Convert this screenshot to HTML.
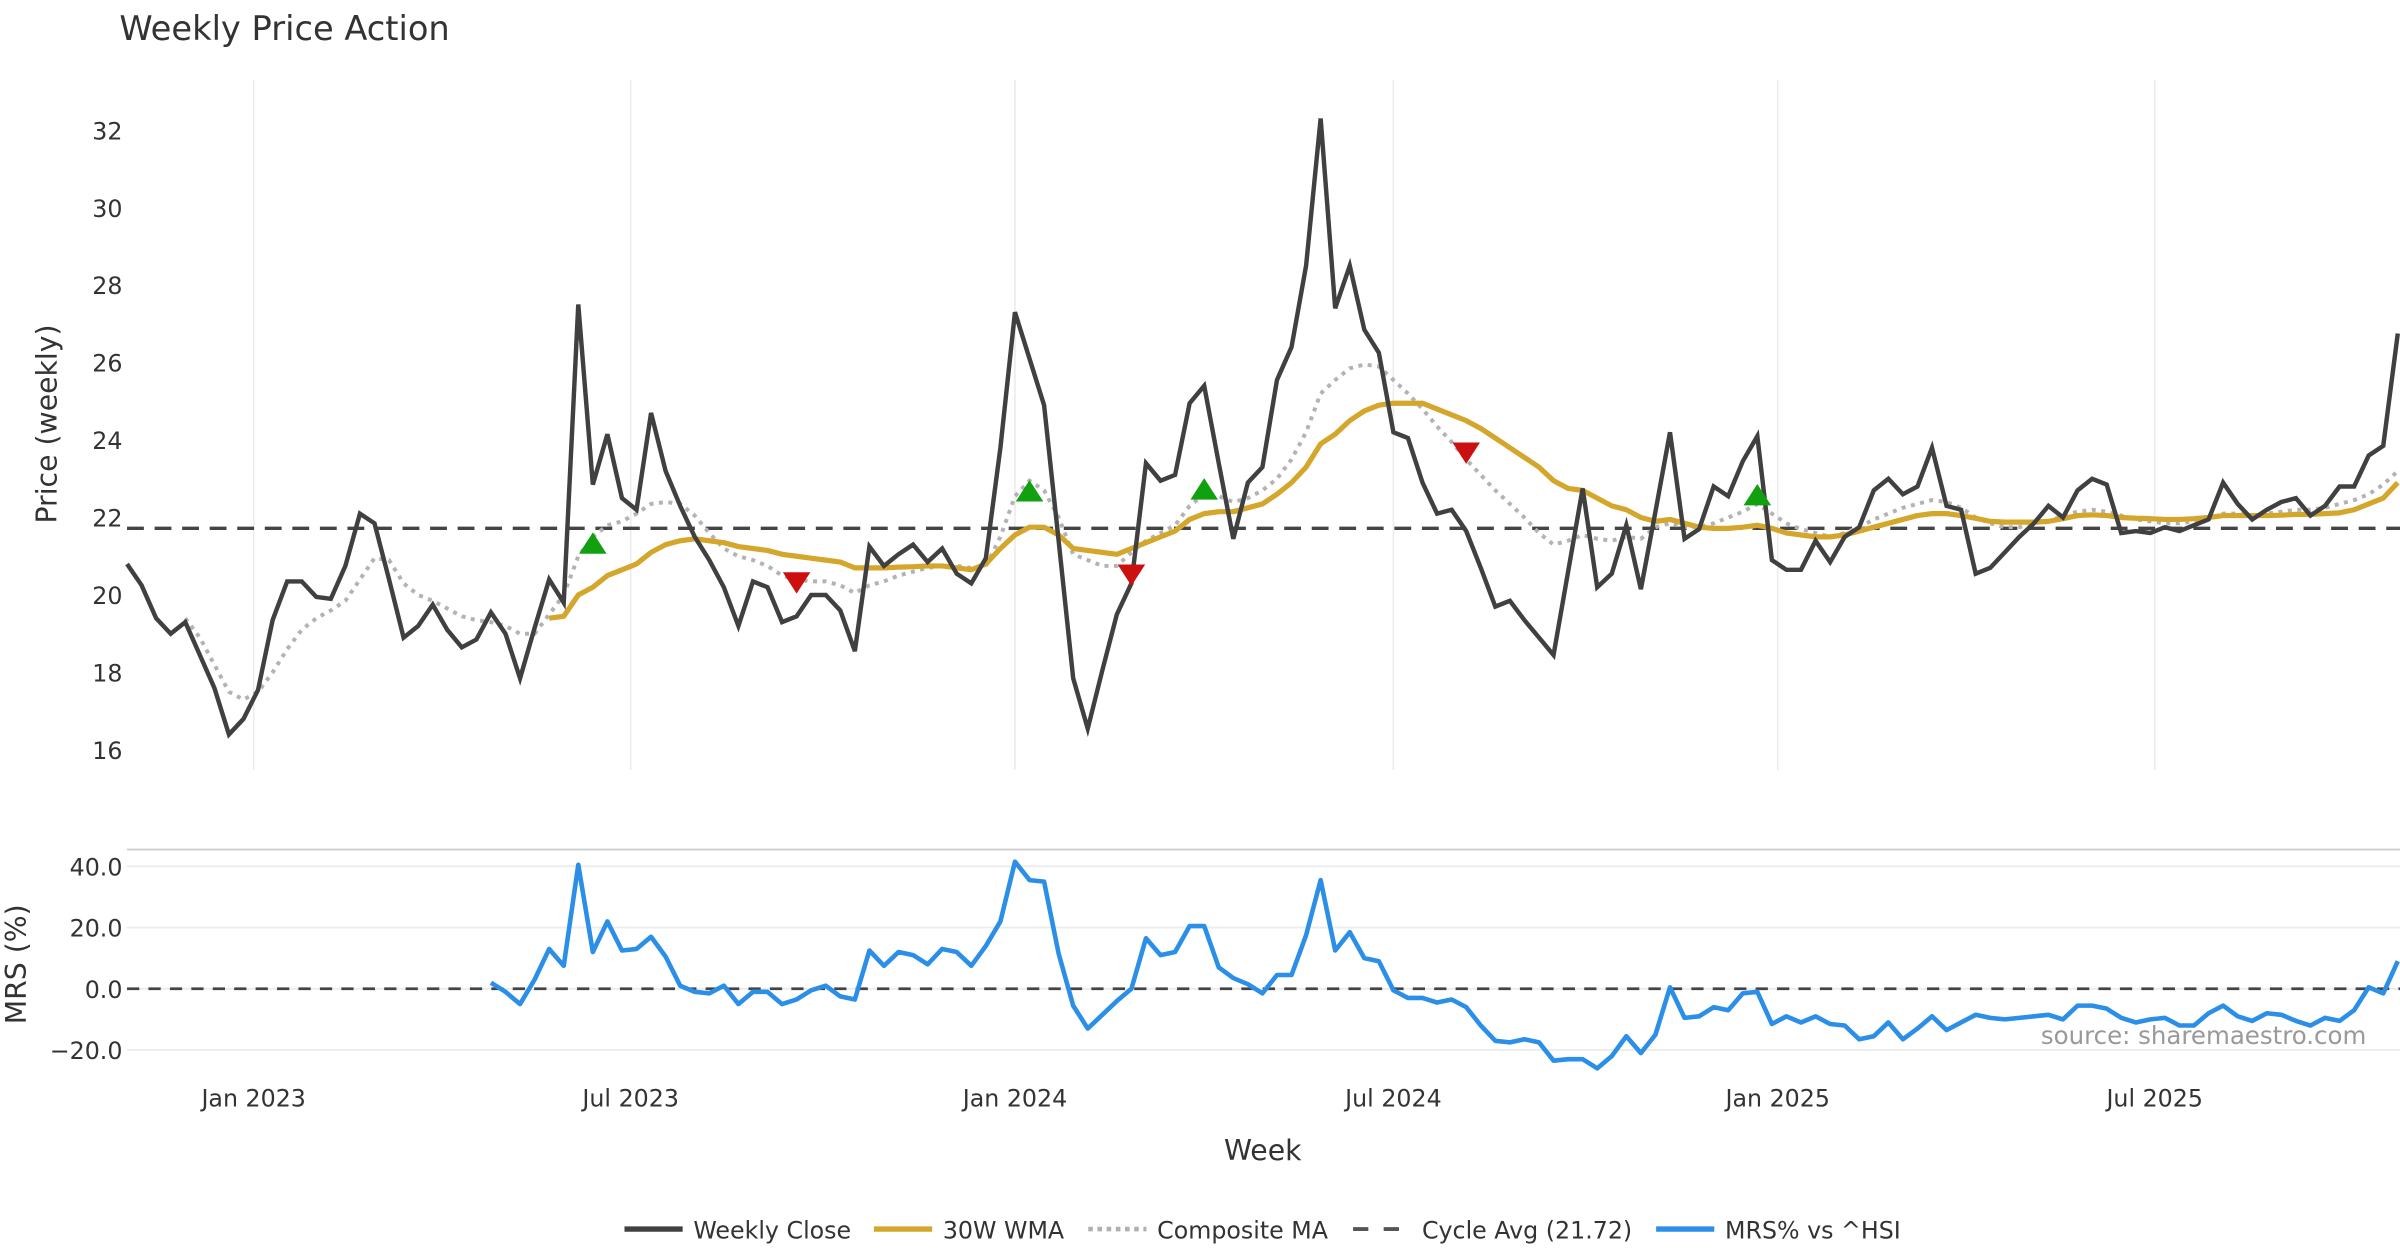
<!DOCTYPE html>
<html><head><meta charset="utf-8"><style>
html,body{margin:0;padding:0;background:#fff;}
svg{display:block;font-family:"DejaVu Sans","Liberation Sans",sans-serif;}
</style></head><body>
<svg id="chart" width="2400" height="1260" viewBox="0 0 1568 823.2" xmlns="http://www.w3.org/2000/svg">
<rect x="0" y="0" width="1568" height="823.2" fill="#fff"/>
<text x="78" y="26" font-size="22" fill="#333">Weekly Price Action</text>
<g id="grid"></g>
<g id="series"></g>
<g id="axes"></g>
<text transform="translate(37,277) rotate(-90)" text-anchor="middle" font-size="18.5" fill="#333">Price (weekly)</text>
<text transform="translate(17,630) rotate(-90)" text-anchor="middle" font-size="18.5" fill="#333">MRS (%)</text>
<text x="825" y="758" text-anchor="middle" font-size="18.5" fill="#333">Week</text>
<text x="1546" y="682" text-anchor="end" font-size="16" fill="#999">source: sharemaestro.com</text>
<g id="legend">
  <line x1="408" y1="803" x2="446" y2="803" stroke="#404040" stroke-width="3.5"/>
  <text x="453" y="809" font-size="15.5" fill="#333">Weekly Close</text>
  <line x1="571" y1="803" x2="609" y2="803" stroke="#d4a72c" stroke-width="3.5"/>
  <text x="616" y="809" font-size="15.5" fill="#333">30W WMA</text>
  <line x1="711" y1="803" x2="749" y2="803" stroke="#b0b0b0" stroke-width="3" stroke-dasharray="3,3"/>
  <text x="756" y="809" font-size="15.5" fill="#333">Composite MA</text>
  <line x1="884" y1="803" x2="922" y2="803" stroke="#555" stroke-width="2.5" stroke-dasharray="10,10"/>
  <text x="929" y="809" font-size="15.5" fill="#333">Cycle Avg (21.72)</text>
  <line x1="1082" y1="803" x2="1120" y2="803" stroke="#2b8fe8" stroke-width="3.5"/>
  <text x="1127" y="809" font-size="15.5" fill="#333">MRS% vs ^HSI</text>
</g>
</svg>
<script>
const closeVals=[20.8,20.25,19.4,19.0,19.3,18.45,17.6,16.4,16.8,17.55,
19.35,20.35,20.35,19.95,19.9,20.75,22.1,21.85,20.4,18.9,
19.2,19.75,19.1,18.65,18.85,19.55,19.0,17.85,19.15,20.4,
19.8,27.5,22.85,24.15,22.5,22.2,24.7,23.2,22.3,21.5,
20.9,20.2,19.2,20.35,20.2,19.3,19.45,20.0,20.0,19.6,
18.55,21.25,20.75,21.05,21.3,20.85,21.2,20.55,20.3,20.95,
23.8,27.3,26.1,24.9,21.4,17.85,16.55,18.05,19.5,20.3,
23.4,22.95,23.1,24.95,25.4,23.4,21.45,22.9,23.3,25.55,
26.4,28.5,32.3,27.4,28.5,26.85,26.25,24.2,24.05,22.9,
22.1,22.2,21.65,20.7,19.7,19.85,19.35,18.9,18.45,20.6,
22.75,20.2,20.55,21.8,20.15,22.15,24.2,21.45,21.7,22.8,
22.55,23.45,24.1,20.9,20.65,20.65,21.4,20.85,21.5,21.75,
22.7,23.0,22.6,22.8,23.8,22.3,22.2,20.55,20.7,21.1,
21.5,21.85,22.3,22.0,22.7,23.0,22.85,21.6,21.65,21.6,
21.75,21.65,21.8,21.95,22.9,22.35,21.95,22.2,22.4,22.5,
22.05,22.3,22.8,22.8,23.6,23.85,26.75];
const wmaStart=29;
const wmaVals=[19.4,19.45,20.0,20.2,20.5,20.65,20.8,21.1,21.3,21.4,21.45,
21.4,21.35,21.25,21.2,21.15,21.05,21.0,20.95,20.9,20.85,
20.7,20.7,20.7,20.72,20.73,20.75,20.75,20.7,20.65,20.8,
21.2,21.55,21.75,21.75,21.55,21.2,21.15,21.1,21.05,21.2,
21.35,21.5,21.65,21.95,22.1,22.15,22.15,22.25,22.35,22.6,
22.9,23.3,23.9,24.15,24.5,24.75,24.9,24.95,24.95,24.95,
24.8,24.65,24.5,24.3,24.05,23.8,23.55,23.3,22.95,22.75,
22.7,22.5,22.3,22.2,22.0,21.9,21.95,21.85,21.75,21.72,
21.72,21.75,21.8,21.72,21.6,21.55,21.5,21.5,21.55,21.65,
21.75,21.85,21.95,22.05,22.1,22.1,22.05,21.98,21.9,21.88,
21.88,21.88,21.9,21.97,22.05,22.07,22.05,22.0,21.98,21.97,
21.95,21.95,21.97,22.0,22.05,22.05,22.05,22.05,22.06,22.08,
22.08,22.1,22.12,22.2,22.35,22.5,22.9];
const compStart=4;
const compVals=[19.4,18.9,18.2,17.5,17.3,17.5,
18.0,18.6,19.1,19.4,19.6,19.85,20.4,20.95,20.9,20.3,
20.0,19.85,19.65,19.45,19.35,19.3,19.2,19.0,19.0,19.5,
20.0,21.0,21.5,21.8,21.9,22.1,22.35,22.4,22.35,22.05,
21.6,21.2,21.0,20.9,20.75,20.5,20.4,20.35,20.35,20.25,
20.05,20.25,20.35,20.5,20.6,20.7,20.75,20.75,20.7,20.75,
21.5,22.55,22.95,22.7,22.0,21.05,20.9,20.75,20.75,21.1,
21.4,21.6,21.8,22.3,22.6,22.55,22.4,22.5,22.7,23.0,
23.5,24.2,25.2,25.55,25.85,25.95,25.9,25.55,25.2,24.8,
24.35,23.95,23.5,23.1,22.7,22.35,22.0,21.6,21.3,21.4,
21.55,21.45,21.4,21.5,21.45,21.75,21.85,21.75,21.75,21.85,
22.0,22.15,22.35,22.1,21.85,21.7,21.6,21.5,21.6,21.75,
21.95,22.1,22.25,22.35,22.45,22.4,22.25,22.0,21.85,21.75,
21.75,21.85,21.9,22.05,22.15,22.2,22.15,22.05,21.95,21.9,
21.85,21.85,21.9,21.95,22.1,22.1,22.05,22.1,22.15,22.2,
22.2,22.25,22.35,22.45,22.6,22.85,23.2];
const mrsStart=25;
const mrsVals=[2,-1,-5,3,13,7.5,40.5,12,22,12.5,
13,17,10.5,1,-1,-1.5,1,-5,-1,-1,
-5,-3.5,-0.5,1,-2.5,-3.5,12.5,7.5,12,11,
8,13,12,7.5,14,22,41.5,35.5,35,11.5,
-5.5,-13,-8.5,-4,0,16.5,11,12,20.5,20.5,
7,3.5,1.5,-1.5,4.5,4.5,17.5,35.5,12.5,18.5,
10,9,-0.5,-3,-3,-4.5,-3.5,-6,-12,-17,
-17.5,-16.5,-17.5,-23.5,-23,-23,-26,-22,-15.5,-21,
-15,0.5,-9.5,-9,-6,-7,-1.5,-1,-11.5,-9,
-11,-9,-11.5,-12,-16.5,-15.5,-11,-16.5,-13,-9,
-13.5,-11,-8.5,-9.5,-10,-9.5,-9,-8.5,-10,-5.5,
-5.5,-6.5,-9.5,-11,-10,-9.5,-12,-12,-8,-5.5,
-9,-10.5,-8,-8.5,-10.5,-12,-9.5,-10.5,-7,0.5,
-1.5,9];
const cycleAvg=21.72;
const upSignalIdx=[32,62,74,112];
const upSignalVals=[21.3,22.65,22.7,22.55];
const downSignalIdx=[46,69,92];
const downSignalVals=[20.35,20.55,23.7];
const priceTicks=[16,18,20,22,24,26,28,30,32];
const mrsTicks=[-20,0,20,40];
const mrsTickLabels=["\u221220.0","0.0","20.0","40.0"];
const dateTicksWeek=[8.7,34.6,61,87,113.4,139.3];
const dateTickLabels=["Jan 2023","Jul 2023","Jan 2024","Jul 2024","Jan 2025","Jul 2025"];

const NS="http://www.w3.org/2000/svg";
const X0=83, DX=9.51;
function xs(i){return X0+i*DX;}
function yp(v){return 85+(32-v)*25.31;}
function ym(v){return 646-v*2;}
function mk(tag,attrs,parent){const e=document.createElementNS(NS,tag);for(const k in attrs)e.setAttribute(k,attrs[k]);parent.appendChild(e);return e;}
const grid=document.getElementById('grid'),series=document.getElementById('series'),axes=document.getElementById('axes');

dateTicksWeek.forEach((w,k)=>{
  const l=mk('line',{x1:xs(w),x2:xs(w),y1:52,y2:503,stroke:'#ebebeb','stroke-width':1},grid);
  
  
  const t=mk('text',{x:xs(w),y:723,'text-anchor':'middle','font-size':15.5,fill:'#333'},axes);
  t.textContent=dateTickLabels[k];
  
  
});
priceTicks.forEach(v=>{
  const t=mk('text',{x:80,y:yp(v)+6,'text-anchor':'end','font-size':15.5,fill:'#333'},axes);
  t.textContent=String(v);
  
  
});
const sep=mk('line',{x1:83,x2:1568,y1:555,y2:555,stroke:'#cccccc','stroke-width':1.2},grid);


mrsTicks.forEach((v,k)=>{
  const l=mk('line',{x1:83,x2:1568,y1:ym(v),y2:ym(v),stroke:'#ececec','stroke-width':1.2},grid);
  
  
  const t=mk('text',{x:80,y:ym(v)+6,'text-anchor':'end','font-size':15.5,fill:'#333'},axes);
  t.textContent=mrsTickLabels[k];
  
  
});

function pathFrom(vals,start,yf){let d='';vals.forEach((v,k)=>{d+=(k?'L':'M')+xs(start+k).toFixed(2)+','+yf(v).toFixed(2);});return d;}

const cyc=mk('line',{x1:83,x2:1568,y1:yp(cycleAvg),y2:yp(cycleAvg),stroke:'#444','stroke-width':2.2,'stroke-dasharray':'11,7'},series);


const comp=mk('path',{d:pathFrom(compVals,compStart,yp),fill:'none',stroke:'#b3b3b3','stroke-width':2.6,'stroke-dasharray':'2.6,3.6'},series);


const wma=mk('path',{d:pathFrom(wmaVals,wmaStart,yp),fill:'none',stroke:'#d4a72c','stroke-width':3.4,'stroke-linejoin':'round'},series);


const cl=mk('path',{d:pathFrom(closeVals,0,yp),fill:'none',stroke:'#404040','stroke-width':2.9,'stroke-linejoin':'miter'},series);



upSignalIdx.forEach((i,k)=>{
  const x=xs(i),y=yp(upSignalVals[k]);
  const p=mk('polygon',{points:`${x-9},${y+6} ${x+9},${y+6} ${x},${y-8}`,fill:'#10a010'},series);
  
  
});
downSignalIdx.forEach((i,k)=>{
  const x=xs(i),y=yp(downSignalVals[k]);
  const p=mk('polygon',{points:`${x-9},${y-6} ${x+9},${y-6} ${x},${y+8}`,fill:'#cc1010'},series);
  
  
});

const zero=mk('line',{x1:83,x2:1568,y1:ym(0),y2:ym(0),stroke:'#444','stroke-width':1.8,'stroke-dasharray':'8,6'},series);


const mrs=mk('path',{d:pathFrom(mrsVals,mrsStart,ym),fill:'none',stroke:'#2b8fe8','stroke-width':3,'stroke-linejoin':'round'},series);


</script>
</body></html>
